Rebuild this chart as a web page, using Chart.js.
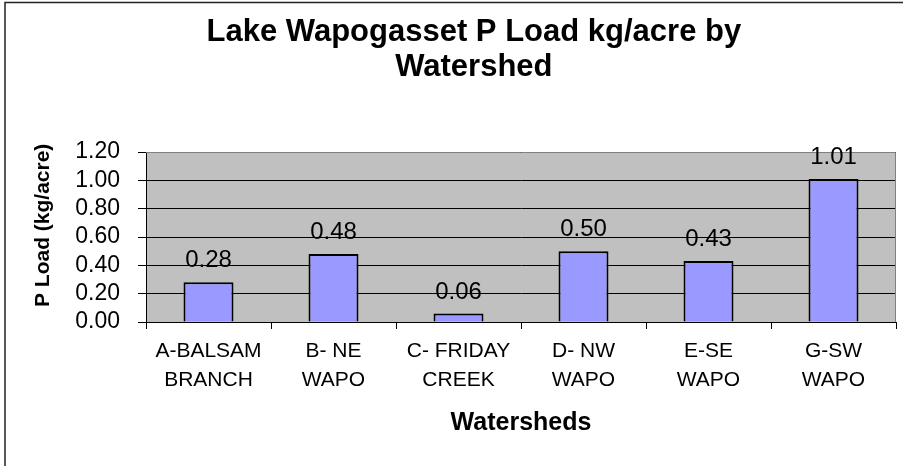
<!DOCTYPE html>
<html>
<head>
<meta charset="utf-8">
<script src="https://cdn.jsdelivr.net/npm/chart.js@4/dist/chart.umd.min.js"></script>
<style>
  html, body { margin: 0; padding: 0; background: #fff; }
  #wrap { width: 903px; height: 466px; }
</style>
</head>
<body>
<div id="wrap"><canvas id="chart" width="903" height="466"></canvas></div>
<script>
// data
const watersheds = [
    ["A-BALSAM", "BRANCH"],
    ["B- NE", "WAPO"],
    ["C- FRIDAY", "CREEK"],
    ["D- NW", "WAPO"],
    ["E-SE", "WAPO"],
    ["G-SW", "WAPO"]
];
const pLoad = [0.28, 0.48, 0.06, 0.50, 0.43, 1.01];
const yTicks = [0, 0.2, 0.4, 0.6, 0.8, 1.0, 1.2];

Chart.defaults.font.family = "'Liberation Sans', Arial, sans-serif";
Chart.defaults.color = "#000";

// white page, frame lines and grey plot area
const backdrop = {
    id: "backdrop",
    beforeDraw(chart) {
        const ctx = chart.ctx;
        const a = chart.chartArea;
        ctx.save();
        ctx.fillStyle = "#fff";
        ctx.fillRect(0, 0, chart.width, chart.height);
        ctx.strokeStyle = "#222";
        ctx.lineWidth = 1.5;
        ctx.beginPath();
        ctx.moveTo(5, chart.height);
        ctx.lineTo(5, 2.5);
        ctx.lineTo(chart.width, 2.5);
        ctx.stroke();
        ctx.fillStyle = "#C0C0C0";
        ctx.fillRect(a.left, a.top, a.right - a.left, a.bottom - a.top);
        ctx.restore();
    },
    afterDatasetsDraw(chart) {
        const ctx = chart.ctx;
        const a = chart.chartArea;
        ctx.save();
        ctx.strokeStyle = "#808080";
        ctx.lineWidth = 1;
        ctx.beginPath();
        ctx.moveTo(a.left, a.top + 0.5);
        ctx.lineTo(a.right - 0.5, a.top + 0.5);
        ctx.lineTo(a.right - 0.5, a.bottom);
        ctx.stroke();
        ctx.restore();
    }
};

// value above each bar
const valueLabels = {
    id: "valueLabels",
    afterDatasetsDraw(chart) {
        const ctx = chart.ctx;
        const meta = chart.getDatasetMeta(0);
        ctx.save();
        ctx.font = "24px 'Liberation Sans', Arial, sans-serif";
        ctx.fillStyle = "#000";
        ctx.textAlign = "center";
        ctx.textBaseline = "alphabetic";
        meta.data.forEach((bar, i) => {
            ctx.fillText(pLoad[i].toFixed(2), bar.x, bar.y - 15);
        });
        ctx.restore();
    }
};

new Chart(document.getElementById("chart"), {
    type: "bar",
    data: {
        labels: watersheds,
        datasets: [{
            data: pLoad,
            backgroundColor: "#9999FF",
            borderColor: "#000",
            borderWidth: 2,
            categoryPercentage: 1,
            barPercentage: 0.4
        }]
    },
    options: {
        responsive: false,
        animation: false,
        layout: { padding: { left: 0, right: 7, top: 0, bottom: 0 } },
        plugins: {
            legend: { display: false },
            tooltip: { enabled: false },
            title: {
                display: true,
                // leading spaces nudge the title right, as in the original
                text: ["      Lake Wapogasset P Load kg/acre by", "      Watershed"],
                font: { size: 31, weight: "bold", lineHeight: 35 / 31 },
                color: "#000",
                padding: { top: 14.7, bottom: 67.3 }
            }
        },
        scales: {
            x: {
                afterFit(scale) { scale.height = 144; },
                grid: {
                    offset: true,
                    drawOnChartArea: false,
                    color: "#000",
                    tickLength: 7
                },
                border: { color: "#000", width: 1 },
                ticks: {
                    font: { size: 21, lineHeight: 1.38 },
                    padding: 8,
                    maxRotation: 0,
                    autoSkip: false
                },
                title: {
                    display: true,
                    text: "Watersheds",
                    font: { size: 25, weight: "bold" },
                    padding: { top: 0, bottom: 27.75 }
                }
            },
            y: {
                min: 0,
                max: 1.2,
                afterFit(scale) { scale.width = 146; },
                afterBuildTicks(scale) { scale.ticks = yTicks.map(v => ({ value: v })); },
                grid: {
                    color: "#000",
                    tickColor: "#000",
                    tickLength: 8,
                    lineWidth: 1
                },
                border: { color: "#000", width: 1 },
                ticks: {
                    font: { size: 23, lineHeight: 1 },
                    padding: 18,
                    autoSkip: false,
                    callback: v => Number(v).toFixed(2)
                },
                title: {
                    display: true,
                    text: "    P Load (kg/acre)",
                    font: { size: 21, weight: "bold" },
                    padding: { top: 31, bottom: 0 }
                }
            }
        }
    },
    plugins: [backdrop, valueLabels]
});
</script>
</body>
</html>
